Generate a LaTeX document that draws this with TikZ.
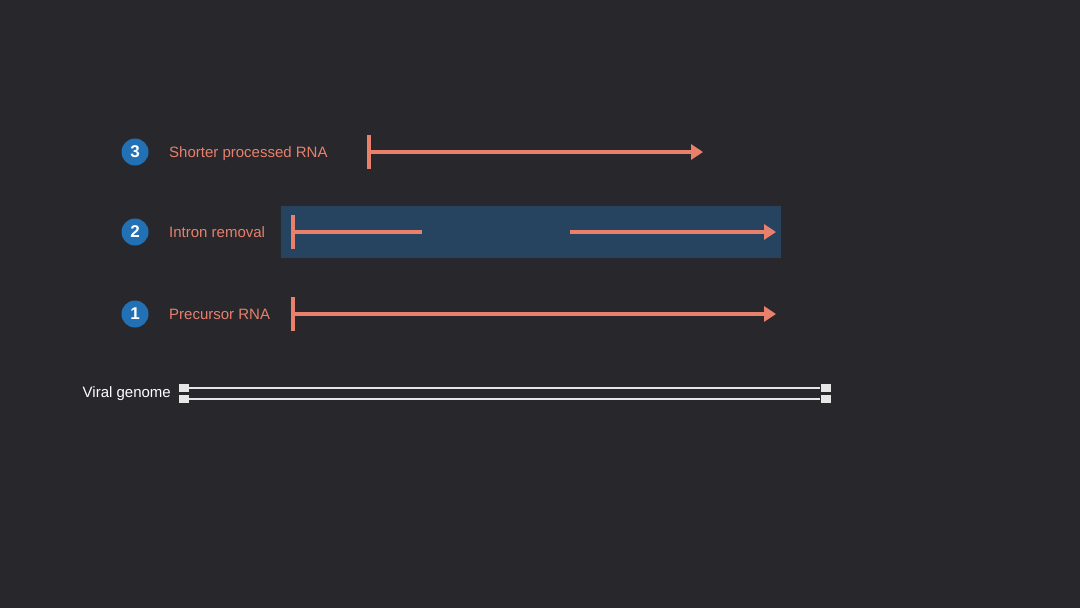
\documentclass[tikz,border=0pt]{standalone}
\usepackage{fontspec}
\setmainfont{Liberation Sans}
\usetikzlibrary{arrows.meta}
\definecolor{bg}{HTML}{28272C}
\definecolor{salmon}{HTML}{E8806C}
\definecolor{numblue}{HTML}{2271B5}
\definecolor{boxblue}{HTML}{26435F}
\definecolor{genome}{HTML}{E6E6E6}
\begin{document}
\begin{tikzpicture}[x=1pt,y=-1pt,
  num/.style={circle,fill=numblue,minimum size=27pt,inner sep=0pt,text=white,font=\fontsize{17}{19}\selectfont\bfseries},
  lbl/.style={anchor=base west,text=salmon,font=\fontsize{15}{18}\selectfont,inner sep=0pt},
  rna/.style={draw=salmon,line width=4.5pt},
  rnaarrow/.style={rna,-{Triangle[length=12pt,width=15pt]}},
  tbar/.style={draw=salmon,line width=4.5pt},
  gline/.style={draw=genome,line width=2pt},
  endcap/.style={fill=genome,minimum width=10pt,minimum height=8pt,inner sep=0pt}]
\fill[bg] (0,0) rectangle (1080,608);
\useasboundingbox (0,0) rectangle (1080,608);
% row 3
\node[num] (n3) at (135,152) {3};
\node[lbl] (l3) at (169,157.5) {Shorter processed RNA};
\coordinate (s3) at (369,152);
\coordinate (e3) at (703,152);
\draw[tbar] (369,135) -- (369,169);
\draw[rnaarrow] (s3) -- (e3);
% row 2
\node[fill=boxblue,minimum width=500pt,minimum height=52pt,inner sep=0pt] (box) at (531,232) {};
\node[num] (n2) at (135,232) {2};
\node[lbl] (l2) at (169,237.5) {Intron removal};
\coordinate (s2) at (293,232);
\coordinate (m2a) at (422,232);
\coordinate (m2b) at (570,232);
\coordinate (e2) at (776,232);
\draw[tbar] (293,215) -- (293,249);
\draw[rna] (s2) -- (m2a);
\draw[rnaarrow] (m2b) -- (e2);
% row 1
\node[num] (n1) at (135,314) {1};
\node[lbl] (l1) at (169,319.5) {Precursor RNA};
\coordinate (s1) at (293,314);
\coordinate (e1) at (776,314);
\draw[tbar] (293,297) -- (293,331);
\draw[rnaarrow] (s1) -- (e1);
% genome
\node[anchor=base east,text=white,font=\fontsize{15}{18}\selectfont,inner sep=0pt] (vg) at (171,397.5) {Viral genome};
\node[endcap] (a1) at (183.5,388) {};
\node[endcap] (a2) at (183.5,398.5) {};
\node[endcap] (b1) at (825.5,388) {};
\node[endcap] (b2) at (825.5,398.5) {};
\draw[gline] (a1) -- (b1);
\draw[gline] (a2) -- (b2);
\end{tikzpicture}
\end{document}
